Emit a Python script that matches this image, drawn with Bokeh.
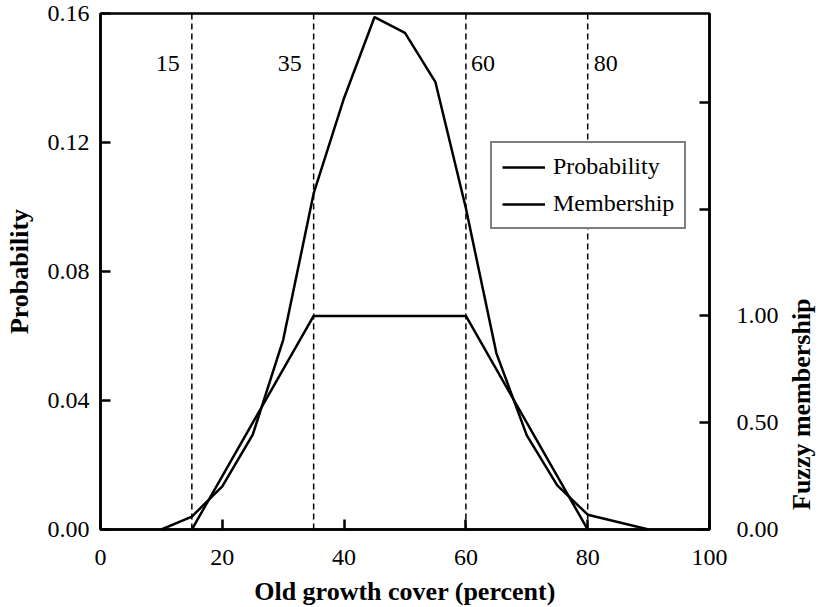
import math
from bokeh.plotting import figure
from bokeh.models import Range1d, LinearAxis, FixedTicker, NumeralTickFormatter, Span, Label
from bokeh.embed import file_html
from bokeh.resources import INLINE

# ---- data ----
cover_pct = [10, 15, 20, 25, 30, 35, 40, 45, 50, 55, 60, 65, 70, 75, 80, 90]
probability = [0.0, 0.004, 0.0134, 0.0294, 0.0588, 0.1042, 0.1338, 0.1589, 0.1540,
               0.1387, 0.0996, 0.0547, 0.0292, 0.0137, 0.0046, 0.0]
member_x = [15, 35, 60, 80]
membership = [0.0, 1.0, 1.0, 0.0]
thresholds = [15, 35, 60, 80]
threshold_labels = ["15", "35", "60", "80"]
x_ticks = [0, 20, 40, 60, 80, 100]
prob_ticks = [0.0, 0.04, 0.08, 0.12, 0.16]
member_ticks = [0.0, 0.5, 1.0]
member_minor_ticks = [1.5, 2.0]

FONT = "Liberation Serif"

p = figure(frame_width=609, frame_height=516, output_backend="svg", toolbar_location=None,
           x_range=Range1d(0, 100), y_range=Range1d(0, 0.16),
           min_border_left=100, min_border_right=105, min_border_top=13, min_border_bottom=70,
           background_fill_color="white", border_fill_color="white")
p.grid.visible = False
p.outline_line_color = "black"
p.outline_line_width = 2.5

p.extra_y_ranges = {"member": Range1d(0, 2.416)}

def style_axis(ax, standoff):
    ax.axis_line_width = 2.5
    ax.axis_line_color = "black"
    ax.major_tick_line_color = "black"
    ax.major_tick_line_width = 2.5
    ax.minor_tick_line_color = "black"
    ax.minor_tick_line_width = 2.5
    ax.major_tick_in = 10
    ax.major_tick_out = 0
    ax.minor_tick_in = 0
    ax.minor_tick_out = 0
    ax.major_label_text_font = FONT
    ax.major_label_text_font_size = "24px"
    ax.major_label_text_color = "black"
    ax.major_label_standoff = standoff
    ax.axis_label_text_font = FONT
    ax.axis_label_text_font_size = "26px"
    ax.axis_label_text_font_style = "bold"
    ax.axis_label_text_color = "black"

xa = p.xaxis[0]
xa.ticker = FixedTicker(ticks=x_ticks)
xa.axis_label = "Old growth cover (percent)"
style_axis(xa, 20)
xa.axis_label_standoff = 9

ya = p.yaxis[0]
ya.ticker = FixedTicker(ticks=prob_ticks)
ya.formatter = NumeralTickFormatter(format="0.00")
ya.axis_label = "Probability"
style_axis(ya, 11)
ya.axis_label_standoff = 11

ra = LinearAxis(y_range_name="member",
                ticker=FixedTicker(ticks=member_ticks, minor_ticks=member_minor_ticks),
                formatter=NumeralTickFormatter(format="0.00"))
style_axis(ra, 27)
ra.minor_tick_in = 10
p.add_layout(ra, "right")

# title-only axis for the right side (bottom-to-top reading)
ta = LinearAxis(y_range_name="member", ticker=FixedTicker(ticks=[]),
                axis_label="\u00a0\u00a0\u00a0Fuzzy membership")
ta.axis_line_alpha = 0
ta.major_tick_in = 0
ta.major_tick_out = 0
ta.minor_tick_in = 0
ta.minor_tick_out = 0
ta.major_label_text_font_size = "1px"
ta.axis_label_text_font = FONT
ta.axis_label_text_font_size = "26px"
ta.axis_label_text_font_style = "bold"
ta.axis_label_text_color = "black"
ta.axis_label_standoff = 20
props = LinearAxis.properties()
if "axis_label_orientation" in props:
    ta.axis_label_orientation = math.pi / 2
if "axis_label_align" in props:
    ta.axis_label_align = "start"
p.add_layout(ta, "right")

for t in thresholds:
    p.add_layout(Span(location=t, dimension="height", line_color="black",
                      line_width=1.5, line_dash="6 4", level="underlay"))

label_align = ["right", "right", "left", "left"]
label_offset = [-12, -12, 5, 6]
for t, txt, al, off in zip(thresholds, threshold_labels, label_align, label_offset):
    p.add_layout(Label(x=t, y=0.1445, text=txt, x_offset=off, text_align=al,
                       text_baseline="middle", text_font=FONT, text_font_size="24px",
                       text_color="black"))

p.line(cover_pct, probability, line_color="black", line_width=2.5, legend_label="Probability")
p.line(member_x, membership, y_range_name="member", line_color="black", line_width=2.5,
       legend_label="Membership")

lg = p.legend[0]
lg.location = (390, 300)
lg.border_line_color = "black"
lg.border_line_width = 2.5
lg.background_fill_color = "white"
lg.background_fill_alpha = 1.0
lg.padding = 10
lg.spacing = 10
lg.margin = 0
lg.glyph_width = 43
lg.glyph_height = 20
lg.label_height = 20
lg.label_standoff = 8
lg.label_text_font = FONT
lg.label_text_font_size = "24px"
lg.label_text_color = "black"

open("out.html", "w").write(file_html(p, INLINE))
